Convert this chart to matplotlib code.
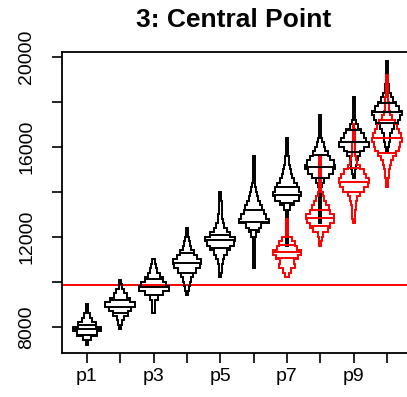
import numpy as np
import matplotlib
matplotlib.use("Agg")
import matplotlib.pyplot as plt

plt.rcParams['font.family'] = ['Liberation Sans', 'DejaVu Sans']

# groups along the x axis
groups = ['p1', 'p2', 'p3', 'p4', 'p5', 'p6', 'p7', 'p8', 'p9', 'p10']

# binned density strips: first bin start, then relative density (%) per bin
BIN = 200
black_start = [7200, 7900, 8600, 9400, 10200, 10600, 11600, 12600, 14600, 15800]
black_dens = [
    [7, 27, 67, 93, 62, 33, 18, 9, 4],
    [7, 13, 22, 49, 73, 100, 67, 44, 27, 11, 7],
    [9, 11, 11, 27, 60, 100, 84, 60, 40, 22, 18, 9],
    [7, 11, 18, 27, 40, 60, 84, 93, 67, 49, 27, 18, 11, 9, 7],
    [7, 9, 11, 18, 27, 44, 67, 89, 100, 67, 44, 27, 18, 13, 11, 9, 9, 7, 6],
    [6] * 7 + [18, 33, 49, 100, 84, 67, 56, 44, 31, 22, 16, 9] + [6] * 6,
    [6] * 8 + [18, 49, 78, 93, 78, 67, 44, 33, 27, 22, 16, 11] + [6] * 4,
    [6] * 8 + [13, 27, 56, 84, 100, 89, 67, 49, 33, 22, 13] + [6] * 5,
    [7, 11, 16, 20, 27, 44, 67, 100, 84, 67, 49, 27, 13] + [6] * 5,
    [7, 11, 18, 22, 33, 49, 71, 89, 100, 78, 62, 40, 27, 16] + [11, 9, 8, 7, 6, 4],
]
# lower quartile, median, upper quartile
black_quart = [
    (7640, 7910, 8090),
    (8620, 8890, 9200),
    (9420, 9780, 10130),
    (10400, 10840, 11290),
    (11510, 11870, 12090),
    (12310, 12670, 13200),
    (13510, 13870, 14220),
    (14620, 15110, 15640),
    (15780, 16220, 16760),
    (17070, 17560, 17960),
]

red_groups = ['p7', 'p8', 'p9', 'p10']
red_start = [10200, 11600, 12600, 14200]
red_dens = [
    [11, 27, 56, 44, 71, 93, 67, 56, 33] + [7] * 4,
    [7, 11, 18, 49, 67, 89, 93, 67, 56, 40, 27, 18] + [7] * 8,
    [7, 9, 11, 13, 18, 22, 40, 71, 93, 100, 84, 67, 40, 22, 16] + [11, 9, 9, 7, 7, 6, 4],
    [7, 9, 11, 16, 20, 27, 40, 62, 78, 89, 100, 93, 78, 67, 56, 33, 18] + [13, 11, 10, 9, 8, 7, 7, 6],
]
red_quart = [
    (11070, 11330, 11640),
    (12490, 12840, 13200),
    (14000, 14440, 15070),
    (15730, 16400, 17200),
]

ref_level = 9860

HALF = 0.45
LW = 1.4


def draw_strip(ax, x, start, dens, quart, color):
    w = np.array(dens) / 100.0 * HALF
    edges = start + BIN * np.arange(len(w) + 1)
    ry = np.column_stack([edges[:-1], edges[1:]]).ravel()
    rx = np.repeat(w, 2)
    xs = np.concatenate([x + rx, (x - rx)[::-1]])
    ys = np.concatenate([ry, ry[::-1]])
    ax.fill(xs, ys, facecolor='none', edgecolor=color, lw=LW, joinstyle='miter')
    idx = np.clip(((np.array(quart) - start) // BIN).astype(int), 0, len(w) - 1)
    ax.hlines(quart, x - w[idx], x + w[idx], colors=color, lw=LW)


fig = plt.figure(figsize=(4.07, 3.97), dpi=100)
ax = fig.add_axes([61.5 / 407, 1 - 353 / 397, (409 - 61.5) / 407, (353 - 52) / 397])

ax.axhline(ref_level, color='red', lw=1.4, zorder=1)

for i, g in enumerate(groups):
    draw_strip(ax, i + 1, black_start[i], black_dens[i], black_quart[i], 'black')
for i, g in enumerate(red_groups):
    draw_strip(ax, groups.index(g) + 1, red_start[i], red_dens[i], red_quart[i], 'red')

ax.set_xlim(0.235, 0.235 + 347.5 / 33.33)
ax.set_ylim(6844, 20222)

ax.set_xticks(np.arange(1, len(groups) + 1))
ax.set_xticklabels([g if i % 2 == 0 else '' for i, g in enumerate(groups)])
yt = np.arange(8000, 20001, 2000)
ax.set_yticks(yt)
ax.set_yticklabels([str(v) if v % 4000 == 0 else '' for v in yt],
                   rotation=90, va='center')

ax.tick_params(axis='both', direction='out', length=7, width=1.2,
               labelsize=14, colors='black')
ax.tick_params(axis='x', pad=4)
ax.tick_params(axis='y', pad=12)
ax.spines['right'].set_visible(False)
for s in ['left', 'top', 'bottom']:
    ax.spines[s].set_linewidth(1.3)

fig.text(234 / 407, 1 - 27 / 397, '3: Central Point', ha='center',
         va='baseline', fontsize=19, fontweight='bold')

fig.savefig('out.png', dpi=100)
